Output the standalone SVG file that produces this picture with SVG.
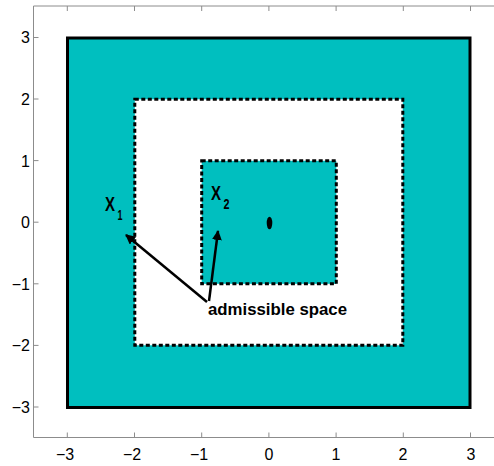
<svg xmlns="http://www.w3.org/2000/svg" width="494" height="466" viewBox="0 0 494 466">
<style>
.ax{stroke:#8c8c8c;stroke-width:1;fill:none}
.tl{font-family:"Liberation Sans",Arial,sans-serif;font-size:16px;fill:#000}
.lb{font-family:"Liberation Sans",Arial,sans-serif;fill:#000}
.dash{stroke:#000;stroke-width:3;stroke-dasharray:4 2.5}
.arr{stroke:#000;stroke-width:2.5;fill:none;marker-end:url(#ah)}
</style>
<defs>
<marker id="ah" viewBox="0 0 10 10" refX="9" refY="5" markerWidth="4" markerHeight="4" orient="auto" markerUnits="strokeWidth">
<path d="M0,0 L10,5 L0,10 Z" fill="#000"/>
</marker>
</defs>
<rect width="494" height="466" fill="#fff"/>
<g id="axes">
<path class="ax" d="M33.5,6 V437.5 H494 M33.5,6 H494"/>
<path class="ax" d="M67.3,437.5 v-5 M134.5,437.5 v-5 M201.7,437.5 v-5 M268.9,437.5 v-5 M336.1,437.5 v-5 M403.3,437.5 v-5 M470.5,437.5 v-5 M67.3,6 v5 M134.5,6 v5 M201.7,6 v5 M268.9,6 v5 M336.1,6 v5 M403.3,6 v5 M470.5,6 v5 M33.5,37.5 h5 M33.5,99 h5 M33.5,160.6 h5 M33.5,222.2 h5 M33.5,283.8 h5 M33.5,345.4 h5 M33.5,407 h5"/>
<g class="tl" text-anchor="middle">
<text x="65" y="460">−3</text><text x="132" y="460">−2</text><text x="199" y="460">−1</text><text x="269" y="460">0</text><text x="336" y="460">1</text><text x="403" y="460">2</text><text x="471" y="460">3</text>
</g>
<g class="tl" text-anchor="end">
<text x="30" y="43">3</text><text x="30" y="105">2</text><text x="30" y="167">1</text><text x="30" y="228">0</text><text x="30" y="290">−1</text><text x="30" y="351">−2</text><text x="30" y="413">−3</text>
</g>
</g>
<g id="outer-square"><rect x="67.5" y="38" width="402.5" height="369.5" fill="#00bfbf" stroke="#000" stroke-width="3"/></g>
<g id="white-square"><rect x="134.8" y="99.3" width="268" height="246" style="fill:#fff" class="dash"/></g>
<g id="inner-square"><rect x="201.7" y="160.8" width="134.6" height="123" style="fill:#00bfbf" class="dash"/></g>
<g id="center-dot"><ellipse cx="269.5" cy="223" rx="2.8" ry="6.3" fill="#000"/></g>
<g id="labels">
<text class="lb" x="105" y="211" font-size="21" font-weight="bold" textLength="10" lengthAdjust="spacingAndGlyphs">X</text>
<text class="lb" x="117.5" y="220" font-size="14" font-weight="bold" textLength="5" lengthAdjust="spacingAndGlyphs">1</text>
<text class="lb" x="211" y="200" font-size="21" font-weight="bold" textLength="10" lengthAdjust="spacingAndGlyphs">X</text>
<text class="lb" x="223.5" y="209" font-size="14" font-weight="bold" textLength="6" lengthAdjust="spacingAndGlyphs">2</text>
<text class="lb" x="208" y="314.5" font-size="17" font-weight="bold" textLength="139" lengthAdjust="spacingAndGlyphs">admissible space</text>
</g>
<g id="connectors">
<line class="arr" x1="207" y1="302" x2="126" y2="235"/>
<line class="arr" x1="209" y1="301" x2="218" y2="231"/>
</g>
</svg>
